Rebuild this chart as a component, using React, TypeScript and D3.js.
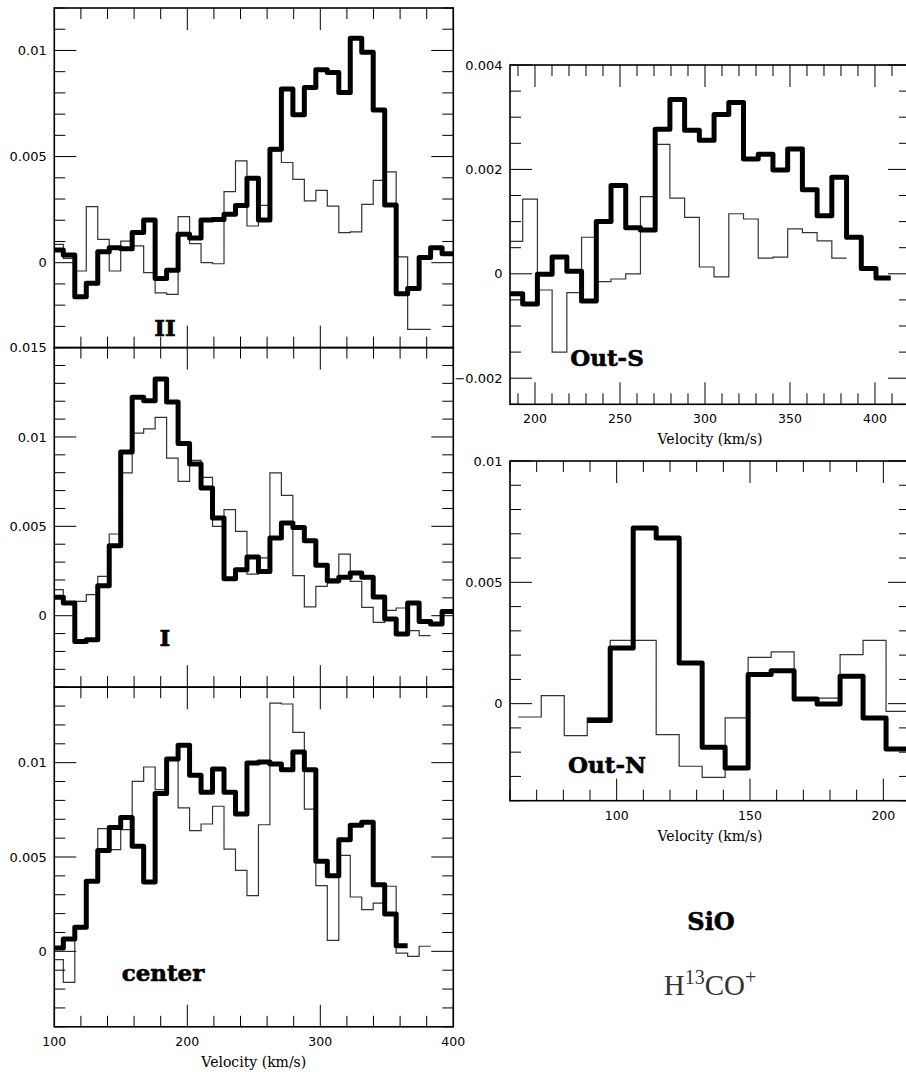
import * as d3 from 'd3';
import React from 'react';

// channel grids (km/s): first channel edge and channel width
const leftChanStart = 98.15;
const leftChanWidth = 8.63;
const outSChanStart = 184.1;
const outSChanWidth = 8.66;
const outNThinStart = 63.1;
const outNThickStart = 88.96;
const outNChanWidth = 8.62;

// SiO (thick) and H13CO+ (thin) spectra
const iiSiO = [
  0.0006, 0.00036, -0.0016, -0.00097, 0.00052, 0.00071, 0.00066, 0.00142, 0.00201, -0.00075, -0.00035, 0.00134,
  0.00116, 0.00201, 0.00204, 0.00228, 0.0027, 0.00398, 0.00201, 0.00535, 0.00818, 0.00697, 0.00825, 0.00909,
  0.00896, 0.00802, 0.01057, 0.00991, 0.0072, 0.00272, -0.00146, -0.00121, 0.00024, 0.00071, 0.00042,
];
const iiH13co = [
  0.00086, 0.0002, -0.00039, 0.00264, 0.0011, -0.00039, 0.00102, 0.00079, -0.00047, -0.00142, -0.00149, 0.00217,
  0.0009, 0.0, -0.00005, 0.00335, 0.0048, 0.00173, 0.0027, 0.00527, 0.00472, 0.00393, 0.00291, 0.00341, 0.00267,
  0.00142, 0.00145, 0.00275, 0.00388, 0.00428, 0.00027, -0.00314, -0.00314,
];
const iSiO = [
  0.00103, 0.00071, -0.00144, -0.00134, 0.00168, 0.00392, 0.00916, 0.01222, 0.01203, 0.01325, 0.01196, 0.00963,
  0.00849, 0.00715, 0.00547, 0.00207, 0.00257, 0.00328, 0.00248, 0.00435, 0.00519, 0.00494, 0.0042, 0.00282,
  0.00196, 0.00215, 0.00239, 0.00215, 0.00104, -0.00019, -0.00103, 0.00071, -0.00032, -0.00047, 0.00024,
];
const iH13co = [
  0.00146, 0.00071, 0.0008, 0.00118, 0.0022, 0.00457, 0.00799, 0.01022, 0.01045, 0.0111, 0.00882, 0.00752, 0.00869,
  0.00774, 0.005, 0.00593, 0.00472, 0.00233, 0.00323, 0.00799, 0.00673, 0.00224, 0.00049, 0.00164, 0.00183,
  0.00345, 0.00192, 0.00047, -0.00037, 0.0003, 0.00043, -0.00084, -0.00112,
];
const centerSiO = [
  0.00018, 0.00065, 0.00127, 0.00371, 0.00534, 0.00657, 0.0071, 0.00557, 0.00367, 0.00836, 0.01019, 0.01092,
  0.00933, 0.00843, 0.00966, 0.00843, 0.00728, 0.00998, 0.01004, 0.00993, 0.00963, 0.01057, 0.00963, 0.00477,
  0.00401, 0.00592, 0.00668, 0.00684, 0.00353, 0.00198, 0.0003,
];
const centerH13co = [
  -0.00044, -0.00164, 0.0012, 0.0037, 0.0065, 0.00539, 0.00645, 0.00901, 0.00977, 0.00857, 0.01016, 0.0076, 0.0064,
  0.00675, 0.00769, 0.00542, 0.00429, 0.00295, 0.00671, 0.01316, 0.01311, 0.01161, 0.00754, 0.00348, 0.00058,
  0.00509, 0.00288, 0.00221, 0.00256, 0.00345, -0.00009, -0.00027, 0.00027,
];
const outSSiO = [
  -0.00038, -0.00058, -0.00001, 0.00032, 0.00005, -0.00052, 0.001, 0.00169, 0.00088, 0.00084, 0.00277, 0.00334,
  0.00275, 0.00256, 0.00305, 0.00328, 0.0022, 0.00229, 0.00199, 0.00239, 0.00161, 0.00111, 0.00185, 0.0007, 0.0001,
  -0.00008,
];
const outSH13co = [
  0.00062, 0.00143, -0.00031, -0.0015, -0.00036, 0.0007, -0.00015, -0.0001, 0.0, 0.00148, 0.00248, 0.00145, 0.00108,
  0.00013, -0.00006, 0.00115, 0.00105, 0.0003, 0.00032, 0.00086, 0.00079, 0.00063, 0.0003,
];
const outNSiO = [
  -0.00069, 0.00229, 0.00724, 0.00683, 0.00168, -0.0018, -0.00265, 0.0012, 0.00136, 0.00019, -0.00001, 0.00113,
  -0.00059, -0.00187,
];
const outNH13co = [
  -0.00055, 0.00033, -0.00132, -0.00059, 0.00261, 0.00261, -0.00128, -0.00258, -0.00304, -0.00059, 0.00191, 0.00213,
  0.00023, 0.00023, 0.00202, 0.00261, -0.00032,
];

// axis ranges
const leftVel = [100, 400];
const outSVel = [185.3, 420.6];
const outNVel = [60, 210];
const iiFlux = [-0.004, 0.012];
const iFlux = [-0.004, 0.015];
const centerFlux = [-0.004, 0.014];
const outSFlux = [-0.0025, 0.004];
const outNFlux = [-0.004, 0.01];

type Series = { start: number; width: number; values: number[]; thick: boolean };

type PanelProps = {
  id: string;
  left: number;
  top: number;
  w: number;
  h: number;
  xDomain: number[];
  yDomain: number[];
  xMinor: number;
  xMajor: number;
  yMinor: number;
  yMajor: number;
  xLabels: boolean;
  series: Series[];
  label: string;
  labelX: number;
  labelY: number;
};

const tickVals = (dom: number[], step: number) => {
  const lo = Math.ceil(dom[0] / step - 1e-6);
  const hi = Math.floor(dom[1] / step + 1e-6);
  return d3.range(lo, hi + 1).map(k => +(k * step).toPrecision(10));
};
const isMajor = (v: number, major: number) => Math.abs(v / major - Math.round(v / major)) < 1e-6;

const yFmt = d3.format('~g');
const sans = "'DejaVu Sans', Verdana, sans-serif";

const Panel: React.FC<PanelProps> = p => {
  const x = d3.scaleLinear().domain(p.xDomain).range([p.left, p.left + p.w]);
  const y = d3.scaleLinear().domain(p.yDomain).range([p.top + p.h, p.top]);
  const line = d3
    .line<[number, number]>()
    .x(d => x(d[0]))
    .y(d => y(d[1]))
    .curve(d3.curveStepAfter);

  const xt = tickVals(p.xDomain, p.xMinor);
  const yt = tickVals(p.yDomain, p.yMinor);
  const bottom = p.top + p.h;
  const right = p.left + p.w;

  return (
    <g>
      <defs>
        <clipPath id={`clip-${p.id}`}>
          <rect x={p.left} y={p.top} width={p.w} height={p.h} />
        </clipPath>
      </defs>
      <g clipPath={`url(#clip-${p.id})`}>
        {p.series.map((s, i) => {
          const pts: [number, number][] = s.values.map((v, k) => [s.start + k * s.width, v]);
          pts.push([s.start + s.values.length * s.width, s.values[s.values.length - 1]]);
          return (
            <path
              key={i}
              d={line(pts) ?? ''}
              fill="none"
              stroke={s.thick ? '#000' : '#333'}
              strokeWidth={s.thick ? 5 : 1.2}
              strokeLinejoin={s.thick ? 'round' : 'miter'}
            />
          );
        })}
      </g>
      {/* ticks on all four sides, pointing inwards */}
      {xt.map(v => {
        const len = isMajor(v, p.xMajor) ? 22 : 11;
        return (
          <g key={`x${v}`} stroke="#000" strokeWidth={1}>
            <line x1={x(v)} x2={x(v)} y1={bottom} y2={bottom - len} />
            <line x1={x(v)} x2={x(v)} y1={p.top} y2={p.top + len} />
          </g>
        );
      })}
      {yt.map(v => {
        const len = isMajor(v, p.yMajor) ? 22 : 11;
        return (
          <g key={`y${v}`} stroke="#000" strokeWidth={1}>
            <line x1={p.left} x2={p.left + len} y1={y(v)} y2={y(v)} />
            <line x1={right} x2={right - len} y1={y(v)} y2={y(v)} />
          </g>
        );
      })}
      <rect x={p.left} y={p.top} width={p.w} height={p.h} fill="none" stroke="#000" strokeWidth={1.6} />
      {yt
        .filter(v => isMajor(v, p.yMajor))
        .map(v => (
          <text
            key={`yl${v}`}
            x={p.left - 7.5}
            y={y(v)}
            dy="0.36em"
            textAnchor="end"
            fontFamily={sans}
            fontSize={13}
            fill="#000"
          >
            {yFmt(v)}
          </text>
        ))}
      {p.xLabels && (
        <g>
          {xt
            .filter(v => isMajor(v, p.xMajor))
            .map(v => (
              <text
                key={`xl${v}`}
                x={x(v)}
                y={bottom + 19}
                textAnchor="middle"
                fontFamily={sans}
                fontSize={12.5}
                fill="#000"
              >
                {v}
              </text>
            ))}
          <text
            x={p.left + p.w / 2}
            y={bottom + 40}
            textAnchor="middle"
            fontFamily="'DejaVu Serif', serif"
            fontSize={14}
            fill="#000"
          >
            Velocity (km/s)
          </text>
        </g>
      )}
      <text
        x={p.labelX}
        y={p.labelY}
        textAnchor="middle"
        fontFamily="'DejaVu Serif', serif"
        fontWeight="bold"
        fontSize={23}
        fill="#000"
        stroke="#000"
        strokeWidth={0.6}
      >
        {p.label}
      </text>
    </g>
  );
};

export default function App() {
  const lw = 399;
  const ph = 339.6;
  const leftX = 54.3;
  const rightX = 510;
  const ser = (start: number, width: number, values: number[], thick: boolean): Series => ({
    start,
    width,
    values,
    thick,
  });

  return (
    <svg width={906} height={1072} style={{ position: 'absolute', left: 0, top: 0, background: '#fff' }}>
      <rect width={906} height={1072} fill="#fff" />
      <Panel
        id="ii"
        left={leftX}
        top={8}
        w={lw}
        h={ph}
        xDomain={leftVel}
        yDomain={iiFlux}
        xMinor={20}
        xMajor={100}
        yMinor={0.001}
        yMajor={0.005}
        xLabels={false}
        series={[ser(leftChanStart, leftChanWidth, iiH13co, false), ser(leftChanStart, leftChanWidth, iiSiO, true)]}
        label="II"
        labelX={165}
        labelY={336}
      />
      <Panel
        id="i"
        left={leftX}
        top={8 + ph}
        w={lw}
        h={ph}
        xDomain={leftVel}
        yDomain={iFlux}
        xMinor={20}
        xMajor={100}
        yMinor={0.001}
        yMajor={0.005}
        xLabels={false}
        series={[ser(leftChanStart, leftChanWidth, iH13co, false), ser(leftChanStart, leftChanWidth, iSiO, true)]}
        label="I"
        labelX={165}
        labelY={646}
      />
      <Panel
        id="center"
        left={leftX}
        top={8 + 2 * ph}
        w={lw}
        h={ph}
        xDomain={leftVel}
        yDomain={centerFlux}
        xMinor={20}
        xMajor={100}
        yMinor={0.001}
        yMajor={0.005}
        xLabels={true}
        series={[
          ser(leftChanStart, leftChanWidth, centerH13co, false),
          ser(leftChanStart, leftChanWidth, centerSiO, true),
        ]}
        label="center"
        labelX={163}
        labelY={981}
      />
      <Panel
        id="outs"
        left={rightX}
        top={65}
        w={400}
        h={339.3}
        xDomain={outSVel}
        yDomain={outSFlux}
        xMinor={10}
        xMajor={50}
        yMinor={0.0005}
        yMajor={0.002}
        xLabels={true}
        series={[ser(outSChanStart, outSChanWidth, outSH13co, false), ser(outSChanStart, outSChanWidth, outSSiO, true)]}
        label="Out-S"
        labelX={607}
        labelY={366}
      />
      <Panel
        id="outn"
        left={rightX}
        top={461}
        w={400}
        h={339.7}
        xDomain={outNVel}
        yDomain={outNFlux}
        xMinor={10}
        xMajor={50}
        yMinor={0.001}
        yMajor={0.005}
        xLabels={true}
        series={[ser(outNThinStart, outNChanWidth, outNH13co, false), ser(outNThickStart, outNChanWidth, outNSiO, true)]}
        label="Out-N"
        labelX={607}
        labelY={773}
      />
      {/* legend */}
      <text
        x={711}
        y={930}
        textAnchor="middle"
        fontFamily="'DejaVu Serif', serif"
        fontWeight="bold"
        fontSize={24}
        stroke="#000"
        strokeWidth={0.6}
      >
        SiO
      </text>
      <text x={710} y={995} textAnchor="middle" fontFamily="'Liberation Serif', 'Times New Roman', serif" fill="#333">
        <tspan fontSize={29}>H</tspan>
        <tspan fontSize={20} dy={-11}>
          13
        </tspan>
        <tspan fontSize={29} dy={11}>
          CO
        </tspan>
        <tspan fontSize={20} dy={-11}>
          +
        </tspan>
      </text>
    </svg>
  );
}
